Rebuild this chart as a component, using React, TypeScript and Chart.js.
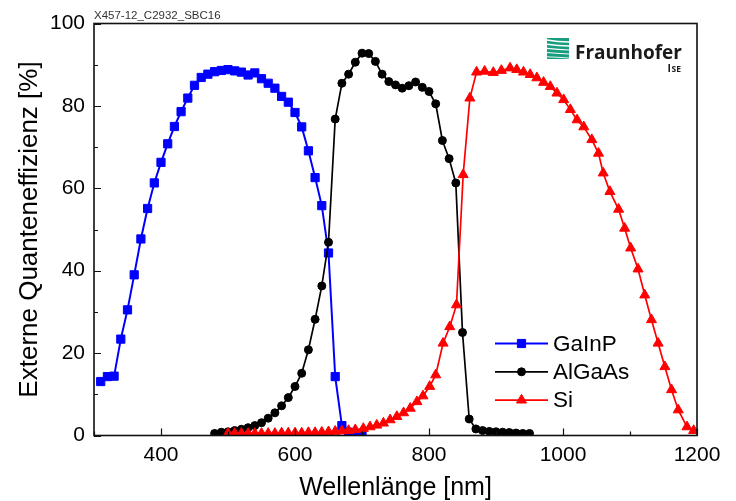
import React, { useEffect, useRef } from 'react';
import { Chart, registerables } from 'chart.js';

Chart.register(...registerables);

const FONT = "'Liberation Sans', Arial, Helvetica, sans-serif";

// ---- data (wavelength nm / external quantum efficiency %) ----
const gainpX = [310, 320, 330, 340, 350, 360, 370, 380, 390, 400, 410, 420, 430, 440, 450, 460, 470, 480, 490, 500,
  510, 520, 530, 540, 550, 560, 570, 580, 590, 600, 610, 620, 630, 640, 650, 660, 670, 680, 690, 700];
const gainpY = [13.1, 14.3, 14.4, 23.4, 30.5, 39.0, 47.7, 55.1, 61.3, 66.3, 70.8, 75.0, 78.6, 81.9, 85.0, 86.9, 87.7, 88.3, 88.6, 88.8,
  88.5, 88.2, 87.5, 88.0, 86.6, 85.5, 84.3, 82.3, 80.9, 78.4, 74.9, 69.1, 62.6, 55.8, 44.3, 14.3, 2.4, 0.8, 0.4, 0.3];

const algaasX = [480, 490, 500, 510, 520, 530, 540, 550, 560, 570, 580, 590, 600, 610, 620, 630, 640, 650, 660, 670,
  680, 690, 700, 710, 720, 730, 740, 750, 760, 770, 780, 790, 800, 810, 820, 830, 840, 850, 860, 870,
  880, 890, 900, 910, 920, 930, 940, 950];
const algaasY = [0.5, 0.8, 0.9, 1.2, 1.5, 1.9, 2.4, 3.1, 4.2, 5.5, 7.2, 9.2, 11.9, 15.1, 20.8, 28.2, 36.3, 46.9, 76.8, 85.5,
  87.7, 90.6, 92.8, 92.7, 90.8, 87.7, 85.9, 85.1, 84.3, 84.9, 85.8, 84.5, 83.5, 80.5, 71.6, 67.2, 61.3, 25.0, 4.0, 1.6,
  1.2, 1.0, 0.9, 0.8, 0.7, 0.6, 0.5, 0.5];

const siX = [500, 510, 520, 530, 540, 550, 560, 570, 580, 590, 600, 610, 620, 630, 640, 650, 660, 670, 680, 690,
  702, 712, 722, 732, 742, 752, 762, 772, 782, 791, 801, 810, 821, 831, 841, 851, 861, 871,
  883, 896, 908, 921, 931, 941, 951, 961, 971, 981, 991, 1001, 1011, 1021, 1031, 1043, 1053, 1060, 1070, 1083, 1092,
  1101, 1112, 1122, 1132, 1142, 1152, 1162, 1172, 1185, 1195];
const siY = [0.5, 0.5, 0.5, 0.5, 0.5, 0.5, 0.5, 0.5, 0.6, 0.6, 0.6, 0.6, 0.7, 0.7, 0.8, 0.9, 1.0, 1.1, 1.2, 1.4,
  1.7, 2.1, 2.5, 3.0, 3.8, 4.6, 5.5, 6.6, 8.2, 9.6, 11.9, 14.7, 22.4, 26.4, 31.7, 63.3, 81.9, 88.2,
  88.4, 88.1, 88.6, 89.2, 88.8, 88.2, 87.6, 86.8, 85.7, 84.7, 83.1, 81.5, 79.1, 76.6, 74.9, 71.8, 68.5, 63.7, 59.2, 54.9, 50.3,
  45.5, 40.4, 34.1, 28.1, 22.4, 16.7, 11.1, 6.2, 2.1, 1.2];

const seriesNames = ['GaInP', 'AlGaAs', 'Si'];
const seriesColors = ['#0000ff', '#000000', '#ff0000'];
const seriesMarkers = ['rect', 'circle', 'triangle'];

const xMin = 300, xMax = 1200, xStep = 100, xLabelStep = 200;
const yMin = 0, yMax = 100, yStep = 10, yLabelStep = 20;

const xTitle = 'Wellenlänge [nm]';
const yTitle = 'Externe Quanteneffizienz [%]';
const sampleLabel = 'X457-12_C2932_SBC16';
const logoText = 'Fraunhofer';

const toPoints = (xs: number[], ys: number[]) => xs.map((x, i) => ({ x, y: ys[i] }));

function drawMarker(ctx: CanvasRenderingContext2D, style: string, x: number, y: number, r: number) {
  ctx.beginPath();
  if (style === 'rect') {
    const s = Math.SQRT1_2 * r;
    ctx.rect(x - s, y - s, 2 * s, 2 * s);
  } else if (style === 'circle') {
    ctx.arc(x, y, r, 0, Math.PI * 2);
  } else {
    let rad = 0;
    ctx.moveTo(x + Math.sin(rad) * r, y - Math.cos(rad) * r);
    rad += (2 * Math.PI) / 3;
    ctx.lineTo(x + Math.sin(rad) * r, y - Math.cos(rad) * r);
    rad += (2 * Math.PI) / 3;
    ctx.lineTo(x + Math.sin(rad) * r, y - Math.cos(rad) * r);
    ctx.closePath();
  }
  ctx.fill();
  ctx.stroke();
}

const framePlugin = {
  id: 'frameTicks',
  afterDatasetsDraw(chart: any) {
    const { ctx, chartArea: a, scales } = chart;
    const xs = scales.x, ys = scales.y;
    ctx.save();
    ctx.strokeStyle = '#111';
    ctx.lineWidth = 1.6;
    ctx.strokeRect(a.left, a.top, a.right - a.left, a.bottom - a.top);
    ctx.lineWidth = 1.2;
    ctx.beginPath();
    xs.ticks.forEach((t: any) => {
      const px = Math.round(xs.getPixelForValue(t.value)) + 0.5;
      const len = t.value % xLabelStep === 0 ? 7 : 4;
      ctx.moveTo(px, a.bottom);
      ctx.lineTo(px, a.bottom - len);
    });
    ys.ticks.forEach((t: any) => {
      const py = Math.round(ys.getPixelForValue(t.value)) + 0.5;
      const len = t.value % yLabelStep === 0 ? 7 : 4;
      ctx.moveTo(a.left, py);
      ctx.lineTo(a.left + len, py);
    });
    ctx.stroke();
    ctx.restore();
  },
};

const legendPlugin = {
  id: 'lineMarkerLegend',
  afterDraw(chart: any) {
    const ctx: CanvasRenderingContext2D = chart.ctx;
    ctx.save();
    const x0 = 495, x1 = 548, y0 = 343.5, dy = 28.3;
    seriesNames.forEach((name, i) => {
      const y = y0 + i * dy;
      ctx.strokeStyle = seriesColors[i];
      ctx.fillStyle = seriesColors[i];
      ctx.lineWidth = i === 0 ? 2 : 1.7;
      ctx.beginPath();
      ctx.moveTo(x0, y);
      ctx.lineTo(x1, y);
      ctx.stroke();
      ctx.lineWidth = 1;
      const r = seriesMarkers[i] === 'circle' ? 4 : 5.8;
      drawMarker(ctx, seriesMarkers[i], (x0 + x1) / 2, y, r);
      ctx.fillStyle = '#000';
      ctx.font = `22.5px ${FONT}`;
      ctx.textBaseline = 'middle';
      ctx.textAlign = 'left';
      ctx.fillText(name, 553, y + 1);
    });
    ctx.restore();
  },
};

const decorPlugin = {
  id: 'decor',
  afterDraw(chart: any) {
    const ctx: CanvasRenderingContext2D = chart.ctx;
    ctx.save();
    // sample label
    ctx.fillStyle = '#333';
    ctx.font = `11.5px ${FONT}`;
    ctx.textBaseline = 'alphabetic';
    ctx.textAlign = 'left';
    ctx.fillText(sampleLabel, 94, 18.5);
    // logo icon
    const lx = 547, ly = 38, lw = 22, lh = 21;
    ctx.fillStyle = '#179c7d';
    ctx.fillRect(lx, ly, lw, lh);
    ctx.save();
    ctx.beginPath();
    ctx.rect(lx, ly, lw, lh);
    ctx.clip();
    ctx.strokeStyle = '#ffffff';
    const widths = [1.6, 1.4, 1.2, 1.0, 0.9];
    widths.forEach((w, i) => {
      ctx.lineWidth = w;
      ctx.beginPath();
      ctx.moveTo(lx, ly + 2 + i * 4.2);
      ctx.quadraticCurveTo(lx + lw * 0.5, ly + 4 + i * 3.8, lx + lw, ly + 4 + i * 4);
      ctx.stroke();
    });
    ctx.restore();
    // logo text
    ctx.fillStyle = '#1a1a1a';
    ctx.font = `700 19px 'Open Sans', ${FONT}`;
    ctx.textAlign = 'left';
    ctx.fillText(logoText, 575, 58.5);
    ctx.textAlign = 'right';
    ctx.font = `700 8.5px 'Open Sans', ${FONT}`;
    const seW = ctx.measureText('SE').width;
    ctx.fillText('SE', 681, 72.3);
    ctx.font = `700 10.5px 'Open Sans', ${FONT}`;
    ctx.fillText('I', 681 - seW - 0.5, 72.3);
    ctx.restore();
  },
};

export default function App() {
  const ref = useRef<HTMLCanvasElement>(null);
  useEffect(() => {
    if (!ref.current) return;
    const xsArr = [gainpX, algaasX, siX];
    const ysArr = [gainpY, algaasY, siY];
    const datasets = seriesNames.map((name, i) => ({
      label: name,
      data: toPoints(xsArr[i], ysArr[i]),
      borderColor: seriesColors[i],
      backgroundColor: seriesColors[i],
      pointBackgroundColor: seriesColors[i],
      pointBorderColor: seriesColors[i],
      pointBorderWidth: 1,
      pointStyle: seriesMarkers[i],
      pointRadius: seriesMarkers[i] === 'circle' ? 4 : 5.8,
      borderWidth: i === 0 ? 2 : 1.7,
      tension: 0,
      fill: false,
      order: 3 - i,
    }));
    const chart = new Chart(ref.current, {
      type: 'line',
      data: { datasets },
      options: {
        animation: false,
        responsive: false,
        events: [],
        layout: { padding: { left: 0, right: 39, top: 23.5, bottom: 0 } },
        plugins: { legend: { display: false }, tooltip: { enabled: false } },
        scales: {
          x: {
            type: 'linear',
            min: xMin,
            max: xMax,
            ticks: {
              stepSize: xStep,
              autoSkip: false,
              maxRotation: 0,
              padding: 7,
              color: '#000',
              font: { family: FONT, size: 21 },
              callback: (v: any) => (Number(v) % xLabelStep === 0 ? String(v) : ''),
            },
            grid: { display: false, drawTicks: false },
            border: { display: false },
            title: {
              display: true,
              text: xTitle,
              color: '#000',
              font: { family: FONT, size: 25, lineHeight: 1 },
              padding: { top: 0, bottom: 0 },
            },
            afterFit: (s: any) => { s.height = 65.5; },
          },
          y: {
            type: 'linear',
            min: yMin,
            max: yMax,
            ticks: {
              stepSize: yStep,
              autoSkip: false,
              padding: 9,
              color: '#000',
              font: { family: FONT, size: 21 },
              callback: (v: any) => (Number(v) % yLabelStep === 0 ? String(v) : ''),
            },
            grid: { display: false, drawTicks: false },
            border: { display: false },
            title: {
              display: true,
              text: yTitle,
              color: '#000',
              font: { family: FONT, size: 26, lineHeight: 1 },
              padding: { top: 17, bottom: 0 },
            },
            afterFit: (s: any) => { s.width = 94; },
          },
        },
      },
      plugins: [framePlugin, legendPlugin, decorPlugin],
    } as any);
    return () => chart.destroy();
  }, []);
  return (
    <div style={{ position: 'absolute', left: 0, top: 0, width: 736, height: 501, background: '#fff' }}>
      <canvas ref={ref} width={736} height={501} style={{ display: 'block' }} />
    </div>
  );
}
